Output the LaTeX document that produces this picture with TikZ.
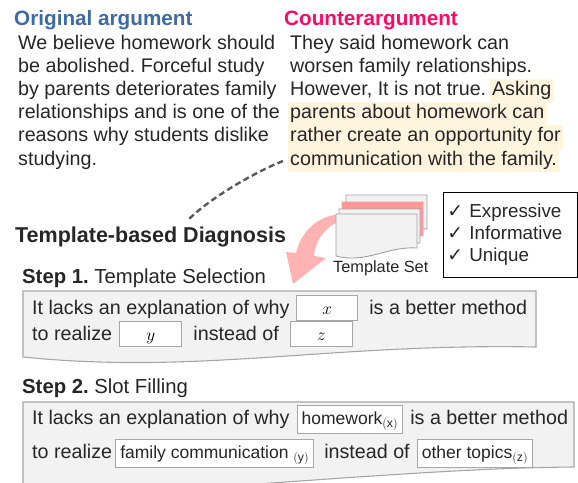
\documentclass[tikz,border=0pt]{standalone}
\usepackage{fontspec}
\setmainfont{Liberation Sans}
\newfontfamily\symfont{DejaVu Sans}
\usetikzlibrary{positioning}
\frenchspacing

\definecolor{txtdark}{RGB}{38,38,38}
\definecolor{origblue}{RGB}{62,106,164}
\definecolor{cntpink}{RGB}{250,10,100}
\definecolor{hlyellow}{RGB}{255,244,222}
\definecolor{boxfill}{RGB}{242,242,242}
\definecolor{boxline}{RGB}{166,166,166}
\definecolor{docline}{RGB}{160,160,160}
\definecolor{docpink}{RGB}{255,153,153}
\definecolor{arrowpink}{RGB}{255,178,178}
\definecolor{dashgray}{RGB}{89,89,89}

% one template sheet: top-left corner, then style
\newcommand{\tdoc}[3]{\filldraw[#3] (#1,#2) -- ++(81,0) -- ++(0,34)
  .. controls +(-30,-2) and +(30,8) .. ++(-81,8) -- cycle;}

\begin{document}
\begin{tikzpicture}[
  x=1pt, y=-1pt,
  argtxt/.style={font=\fontsize{19.7pt}{23.2pt}\selectfont, text=txtdark,
                 inner sep=0pt, anchor=base west},
  hltxt/.style={argtxt, fill=hlyellow, text height=16.5pt, text depth=6.7pt,
                inner xsep=2.5pt},
  title/.style={font=\fontsize{20.7pt}{24pt}\selectfont\bfseries,
                inner sep=0pt, anchor=base west},
  stephead/.style={font=\fontsize{20.3pt}{24pt}\selectfont, text=txtdark,
                   inner sep=0pt, anchor=base west},
  stepbox/.style={fill=boxfill, draw=boxline, line width=1.1pt},
  slot/.style={draw=boxline, fill=white, line width=0.9pt, text height=13pt,
               text depth=0pt, inner ysep=6pt, inner xsep=0pt, minimum width=61pt,
               font=\fontsize{19pt}{20pt}\selectfont, anchor=base west},
  slotfill/.style={draw=boxline, fill=white, line width=0.9pt, text height=13pt,
                   text depth=4pt, inner ysep=5.5pt, inner xsep=4.5pt, text=txtdark,
                   font=\fontsize{17.5pt}{20pt}\selectfont, anchor=base west},
  sheet/.style={fill=boxfill, draw=docline, line width=0.9pt},
  checklist/.style={draw=black, line width=0.8pt, anchor=north west, align=left,
                    text width=126pt, inner xsep=4pt, inner ysep=11.5pt, text=txtdark,
                    font=\fontsize{18.8pt}{22pt}\selectfont},
  dashlink/.style={draw=dashgray, line width=2.4pt, dash pattern=on 6pt off 3.5pt}
]
\path[use as bounding box, clip] (0,0) rectangle (578,482);

% arguments
\node[title, text=origblue] (orig) at (14,25) {Original argument};
\node[title, text=cntpink] (cnt) at (284,25) {Counterargument};

\foreach \ln [count=\i] in {We believe homework should, be abolished. Forceful study,
    by parents deteriorates family, relationships and is one of the,
    reasons why students dislike, studying.}
  \node[argtxt] (org\i) at (18,{49+23.2*(\i-1)}) {\ln};

\node[argtxt] (cnt1) at (290,49) {They said homework can};
\node[argtxt] (cnt2) at (290,72.2) {worsen family relationships.};
\node[argtxt] (cnt3a) at (290,95.4) {However, It is not true.};
\node[hltxt] (cnt3b) at ([xshift=3pt]cnt3a.base east) {Asking};
\node[hltxt] (cnt4) at (287.5,118.6) {parents about homework can};
\node[hltxt] (cnt5) at (287.5,141.8) {rather create an opportunity for};
\node[hltxt] (cnt6) at (287.5,165) {communication with the family.};

\coordinate (dashA) at (283,161);
\coordinate (dashB) at (188,220);
\draw[dashlink] (dashA) .. controls (255,172) and (210,198) .. (dashB);

% template set
\tdoc{346}{195}{sheet}
\tdoc{342}{202}{fill=docpink, draw=docpink, line width=0.9pt}
\tdoc{339}{209}{sheet}
\fill[arrowpink] (350,214) .. controls (322,212) and (302,228) .. (296,253)
  -- (286,252) -- (293,284) -- (326,258) -- (314,256)
  .. controls (316,236) and (330,222) .. (350,218) -- cycle;
\tdoc{336}{214}{sheet}
\node[stephead, font=\fontsize{16.3pt}{18pt}\selectfont] (tset) at (333,272) {Template Set};

\node[checklist] (crit) at (443,192)
  {{\symfont ✓} Expressive\\{\symfont ✓} Informative\\{\symfont ✓} Unique};

\node[title, text=txtdark, font=\fontsize{21.5pt}{24pt}\selectfont\bfseries] (diag)
  at (15,242) {Template-based Diagnosis};

% step 1
\node[stephead] (st1) at (22,283) {\textbf{Step 1.} Template Selection};
\filldraw[stepbox] (23,291) -- (536,291) -- (536,347)
  .. controls (330,343) and (200,375) .. (23,357) -- cycle;
\node[argtxt] (t1a) at (32,314) {It lacks an explanation of why};
\node[slot] (tx) at ([xshift=6.5pt]t1a.base east) {$x$};
\node[argtxt] (t1b) at ([xshift=11pt]tx.base east) {is a better method};
\node[argtxt] (t2a) at (32,340) {to realize};
\node[slot, minimum width=62pt] (ty) at ([xshift=7pt]t2a.base east) {$y$};
\node[argtxt] (t2b) at ([xshift=11pt]ty.base east) {instead of};
\node[slot, minimum width=62pt] (tz) at ([xshift=11pt]t2b.base east) {$z$};

% step 2
\node[stephead] (st2) at (22,393.5) {\textbf{Step 2.} Slot Filling};
\filldraw[stepbox] (23,402) -- (574,402) -- (574,467)
  .. controls (450,468) and (330,480) .. (23,500) -- cycle;
\node[argtxt] (f1a) at (32,424) {It lacks an explanation of why};
\node[slotfill] (fx) at ([xshift=7pt]f1a.base east) {homework$_{\mathrm{(x)}}$};
\node[argtxt] (f1b) at ([xshift=7pt]fx.base east) {is a better method};
\node[argtxt] (f2a) at (32,458) {to realize};
\node[slotfill] (fy) at ([xshift=3pt]f2a.base east) {family communication $_{\mathrm{(y)}}$};
\node[argtxt] (f2b) at ([xshift=10pt]fy.base east) {instead of};
\node[slotfill] (fz) at ([xshift=7pt]f2b.base east) {other topics$_{\mathrm{(z)}}$};
\end{tikzpicture}
\end{document}
